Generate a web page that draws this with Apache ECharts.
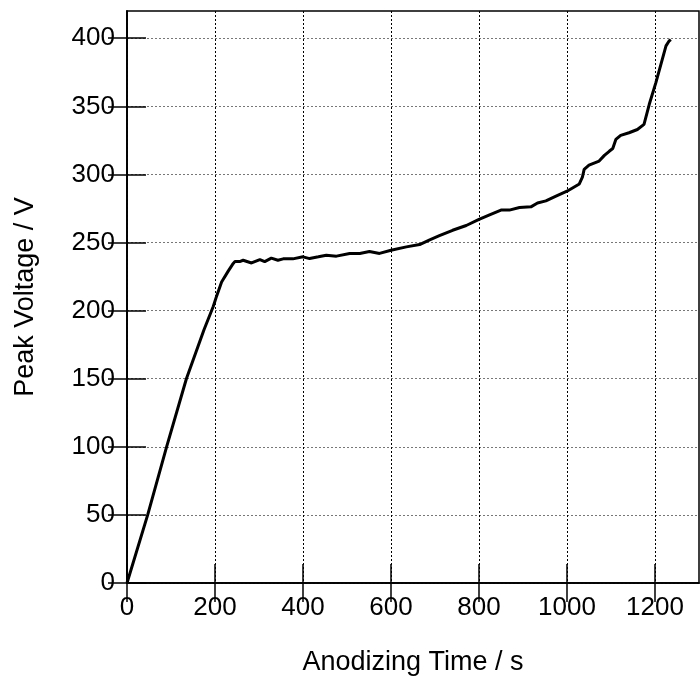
<!DOCTYPE html>
<html>
<head>
<meta charset="utf-8">
<script src="https://cdn.jsdelivr.net/npm/echarts@6/dist/echarts.min.js"></script>
<style>html,body{margin:0;padding:0;background:#fff}#c{width:700px;height:681px}</style>
</head>
<body>
<div id="c"></div>
<script>
var timeS = [0,47,90,135,175,196,204,215,230,240,245,256,264,283,302,313,328,343,355,377,400,415,435,453,476,506,529,551,574,600,635,665,688,710,740,771,800,824,850,869,892,918,933,952,975,1000,1028,1035,1039,1050,1073,1085,1096,1104,1111,1122,1141,1160,1175,1187,1202,1225,1232,1236];
var voltageV = [0,50,100,150,186,203,211,221,229,234,236,236,237,235,237.5,236,238.5,237,238,238,239.5,238.2,239.5,240.7,240,242,242,243.4,242,244.3,246.8,248.5,252,255,259,262.5,267,270.3,273.8,273.8,275.7,276.2,279,280.6,284,287.7,293,298,303.7,306.8,309.8,314,317,319,325.7,328.7,330.6,333,336.8,351.5,367.4,394.4,398,399];
var xTicks = [0,200,400,600,800,1000,1200];
var yTicks = [0,50,100,150,200,250,300,350,400];
var xMin = 0, xMax = 1300, xStep = 200;
var yMin = 0, yMax = 420, yStep = 50;
var xTitle = 'Anodizing Time / s';
var yTitle = 'Peak Voltage / V';

var pts = timeS.map(function(t,i){return [t, voltageV[i]];});
var font = '"Liberation Sans", Arial, sans-serif';
function plain(v){return String(v);}
function tick(vals){return {show:true, inside:true, length:19, customValues:vals, lineStyle:{color:'#000', width:1.5}};}
var chart = echarts.init(document.getElementById('c'));
chart.setOption({
  animation:false,
  backgroundColor:'#fff',
  grid:{left:127, right:1, top:11, bottom:98, show:true, borderColor:'#000', borderWidth:1.5, backgroundColor:'transparent'},
  xAxis:[{
    type:'value', min:xMin, max:xMax, interval:xStep, position:'bottom',
    name:xTitle, nameLocation:'middle', nameGap:66,
    nameTextStyle:{fontFamily:font, fontSize:27, color:'#000'},
    axisLine:{show:true, lineStyle:{color:'#000', width:1.5}},
    axisTick:tick(xTicks),
    axisLabel:{fontFamily:font, fontSize:26, color:'#000', margin:12, customValues:xTicks, formatter:plain},
    splitLine:{show:true, lineStyle:{color:'#000', type:[2,2], width:1}}
  },{
    type:'value', min:xMin, max:xMax, interval:xStep, position:'top',
    axisLine:{show:true, lineStyle:{color:'#000', width:1.5}},
    axisTick:tick(xTicks), axisLabel:{show:false}, splitLine:{show:false}
  }],
  yAxis:[{
    type:'value', min:yMin, max:yMax, interval:yStep, position:'left',
    name:yTitle, nameLocation:'middle', nameGap:88, nameRotate:90,
    nameTextStyle:{fontFamily:font, fontSize:27, color:'#000'},
    axisLine:{show:true, lineStyle:{color:'#000', width:1.5}},
    axisTick:tick(yTicks),
    axisLabel:{fontFamily:font, fontSize:26, color:'#000', margin:12, customValues:yTicks, formatter:plain},
    splitLine:{show:true, lineStyle:{color:'#777', type:[2,2], width:1}}
  },{
    type:'value', min:yMin, max:yMax, interval:yStep, position:'right',
    axisLine:{show:true, lineStyle:{color:'#000', width:1.5}},
    axisTick:tick(yTicks), axisLabel:{show:false}, splitLine:{show:false}
  }],
  series:[{
    type:'line', data:pts, xAxisIndex:0, yAxisIndex:0,
    showSymbol:false, symbol:'none', smooth:false,
    lineStyle:{color:'#000', width:3}
  }]
});
</script>
</body>
</html>
